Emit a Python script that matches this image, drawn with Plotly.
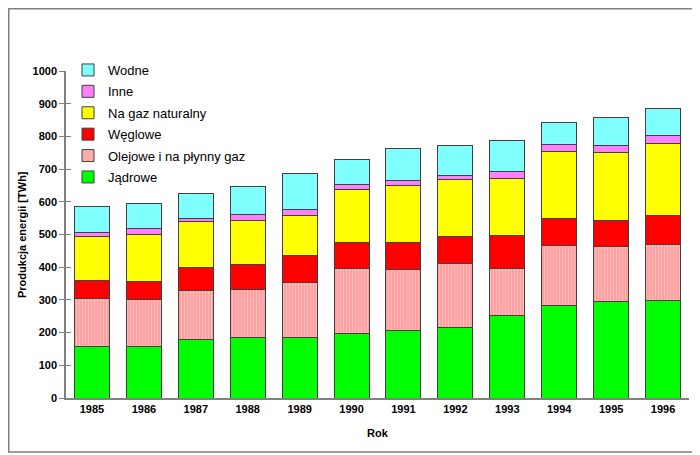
import plotly.graph_objects as go

years = ["1985", "1986", "1987", "1988", "1989", "1990", "1991", "1992", "1993", "1994", "1995", "1996"]
jadrowe = [157, 156, 180, 184, 184, 198, 205, 216, 251, 283, 296, 298]
olejowe = [148, 145, 148, 149, 170, 197, 187, 194, 146, 182, 167, 172]
weglowe = [55, 54, 72, 75, 81, 82, 84, 83, 100, 84, 81, 87]
gaz = [133, 145, 139, 135, 124, 161, 175, 176, 175, 206, 207, 222]
inne = [14, 17, 10, 17, 18, 16, 15, 12, 21, 20, 22, 23]
wodne = [80, 77, 75, 87, 110, 76, 96, 92, 95, 66, 84, 83]

series = [
    ("Jądrowe", jadrowe, "#00FF00", None),
    ("Olejowe i na płynny gaz", olejowe, "#FFA8A8", dict(shape="|", fgcolor="#FFD6D6", bgcolor="#FFA0A0", size=3, solidity=0.35, fillmode="overlay")),
    ("Węglowe", weglowe, "#FF0000", None),
    ("Na gaz naturalny", gaz, "#FFFF00", None),
    ("Inne", inne, "#FF80FF", None),
    ("Wodne", wodne, "#80FFFF", None),
]

fig = go.Figure()
n = len(series)
for i, (name, vals, color, pattern) in enumerate(series):
    marker = dict(color=color, line=dict(color="#404040", width=1))
    if pattern:
        marker["pattern"] = pattern
    fig.add_trace(go.Bar(name=name, x=years, y=vals, marker=marker,
                         legendgroup=name, legendrank=n - i))

# page body has an 8px margin; figure is sized to fill the rest of the window
OFF = 8
W, H = 700 - OFF, 455 - OFF
L, R, T, B = 66 - OFF, 11, 71 - OFF, 57
pw, ph = W - L - R, H - T - B

def px_x(p):
    return (p - OFF - L) / pw

def px_y(p):
    return (H - B - (p - OFF)) / ph

fig.update_layout(
    width=W, height=H,
    barmode="stack", bargap=0.325,
    plot_bgcolor="white", paper_bgcolor="white",
    margin=dict(l=L, r=R, t=T, b=B, autoexpand=False),
    font=dict(family="Arial", color="black"),
    legend=dict(
        x=px_x(68), y=px_y(55), xanchor="left", yanchor="top",
        traceorder="grouped", tracegroupgap=1.5, bgcolor="rgba(0,0,0,0)",
        font=dict(family="Arial", size=13, color="black"),
        itemwidth=30,
    ),
    xaxis=dict(
        type="category", range=[-0.5, len(years) - 0.5],
        showline=True, linecolor="#808080", linewidth=1.5,
        ticks="", showgrid=False,
        tickfont=dict(family="Arial", size=11, weight="bold"),
        title=dict(text="Rok", font=dict(family="Arial", size=11, weight="bold"), standoff=15),
    ),
    yaxis=dict(
        range=[0, 1000], dtick=100, showline=True, linecolor="#808080", linewidth=1.5,
        ticks="outside", ticklen=5, tickcolor="#808080", showgrid=False, zeroline=False,
        tickfont=dict(family="Arial", size=11, weight="bold"),
    ),
    yaxis2=dict(
        range=[0, 1000], dtick=100, overlaying="y", side="left", showticklabels=False,
        ticks="inside", ticklen=5, tickcolor="#808080", showgrid=False, zeroline=False, showline=False,
    ),
    shapes=[dict(
        type="rect", xref="paper", yref="paper",
        x0=px_x(OFF + 0.75), x1=px_x(697), y0=px_y(452), y1=px_y(OFF + 0.75),
        line=dict(color="#808080", width=1.5), fillcolor="rgba(0,0,0,0)", layer="below",
    )],
    annotations=[dict(
        text="<b>Produkcja energii [TWh]</b>", textangle=-90,
        xref="paper", yref="paper", x=px_x(22), y=px_y(235),
        xanchor="center", yanchor="middle", showarrow=False,
        font=dict(family="Arial", size=11, color="black"),
    )],
)
fig.add_trace(go.Scatter(x=[years[0]], y=[0], yaxis="y2", mode="markers",
                         marker=dict(opacity=0, size=1), showlegend=False, hoverinfo="skip"))

fig.write_html("out.html")
